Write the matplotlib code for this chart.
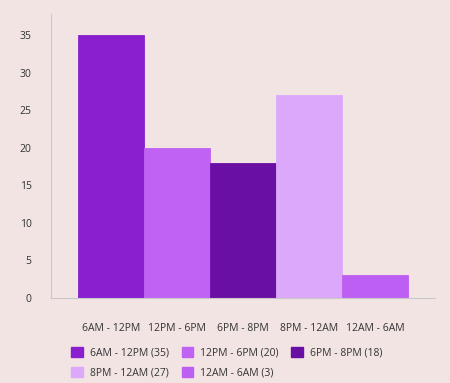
import matplotlib
matplotlib.use("Agg")
import matplotlib.pyplot as plt
from matplotlib.patches import Patch

categories = ["6AM - 12PM", "12PM - 6PM", "6PM - 8PM", "8PM - 12AM", "12AM - 6AM"]
values = [35, 20, 18, 27, 3]
colors = ["#8a1fd0", "#c062f4", "#6a0fa3", "#dca8fc", "#bd5ff2"]
yticks = [0, 5, 10, 15, 20, 25, 30, 35]

bg = "#f3e4e4"
plt.rcParams['font.family'] = ['Open Sans', 'DejaVu Sans']

fig = plt.figure(figsize=(4.5, 3.83), dpi=100, facecolor=bg)
ax = fig.add_axes([51/450, 1 - 298/383, (435-51)/450, (298-14)/383])
ax.set_facecolor(bg)

x = list(range(len(categories)))
ax.bar(x, values, width=1.0, color=colors, edgecolor=colors, linewidth=0.6)
ax.set_xlim(-0.91, 4.91)
ax.set_ylim(0, 37.8)
ax.set_yticks(yticks)
ax.set_yticklabels([str(v) for v in yticks], fontsize=7.5, color="#333333")
ax.set_xticks(x)
ax.set_xticklabels(categories, fontsize=7.5, color="#333333")
ax.tick_params(axis='both', length=0)
ax.tick_params(axis='y', pad=14)
ax.tick_params(axis='x', pad=18)
for s in ["top", "right"]:
    ax.spines[s].set_visible(False)
ax.spines["left"].set_color("#c8c8c8")
ax.spines["bottom"].set_color("#c8c8c8")
ax.spines["left"].set_linewidth(0.8)
ax.spines["bottom"].set_linewidth(0.8)

handles = [Patch(facecolor=c, edgecolor=c, label=f"{cat} ({v})") for cat, v, c in zip(categories, values, colors)]
# order so that the legend reads row-wise
order = [0, 3, 1, 4, 2]
handles = [handles[i] for i in order]
leg = fig.legend(handles=handles, ncol=3, loc="upper left", bbox_to_anchor=(62/450, 1 - 338/383),
                 frameon=False, fontsize=7.5, handlelength=1.1, handleheight=1.1,
                 handletextpad=0.7, columnspacing=1.2, labelspacing=0.75)
for t in leg.get_texts():
    t.set_color("#333333")

fig.savefig("out.png", dpi=100, facecolor=bg)
